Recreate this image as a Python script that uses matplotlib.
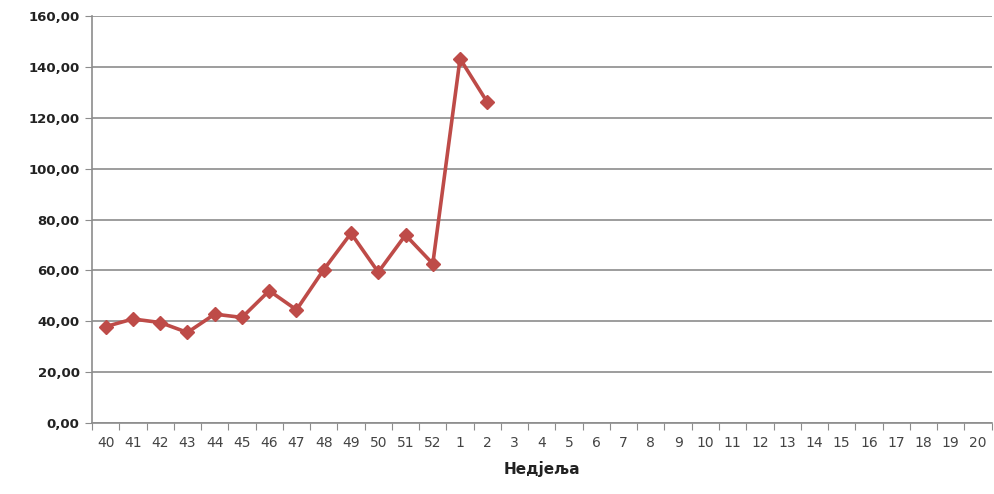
import numpy as np
import matplotlib
matplotlib.use('Agg')
import matplotlib.pyplot as plt

weeks = [str(w) for w in range(40, 53)] + [str(w) for w in range(1, 21)]
values = [37.9, 40.9, 39.5, 35.6, 42.8, 41.5, 52.0, 44.5, 60.3, 74.6,
          59.3, 73.9, 62.6, 143.2, 126.1]
yticks = [0, 20, 40, 60, 80, 100, 120, 140, 160]

fig = plt.figure(figsize=(9.94, 4.94), dpi=100)
ax = fig.add_axes([0.0926, 0.1437, 0.905, 0.8239])

x = np.arange(len(values))
ax.plot(x, values, color='#BE4B48', linewidth=2.6, marker='D',
        markersize=7, markeredgecolor='#BE4B48', zorder=3)

ax.set_xlim(-0.5, len(weeks) - 0.5)
ax.set_ylim(0, 160)
ax.set_yticks(yticks)
ax.set_yticklabels(['%d,00' % v for v in yticks], fontsize=9.5,
                   color='#222222', fontweight='bold')
ax.grid(axis='y', color='#8c8c8c', linewidth=1.2)
ax.set_axisbelow(True)

# ticks at category boundaries, labels at centres
ax.set_xticks(np.arange(-0.5, len(weeks), 1.0))
ax.set_xticklabels([])
ax.set_xticks(np.arange(len(weeks)), minor=True)
ax.set_xticklabels(weeks, minor=True, fontsize=10, color='#444444')
ax.tick_params(axis='x', which='major', length=5, color='#8c8c8c', direction='out')
ax.tick_params(axis='x', which='minor', length=0, pad=9)
ax.tick_params(axis='y', length=5, color='#8c8c8c', pad=4)

for s in ['top', 'right']:
    ax.spines[s].set_visible(False)
for s in ['left', 'bottom']:
    ax.spines[s].set_color('#8c8c8c')
    ax.spines[s].set_linewidth(1.2)

ax.set_xlabel('Недјеља', fontsize=11, fontweight='bold', color='#222222', labelpad=8)

fig.savefig('out.png', dpi=100)
